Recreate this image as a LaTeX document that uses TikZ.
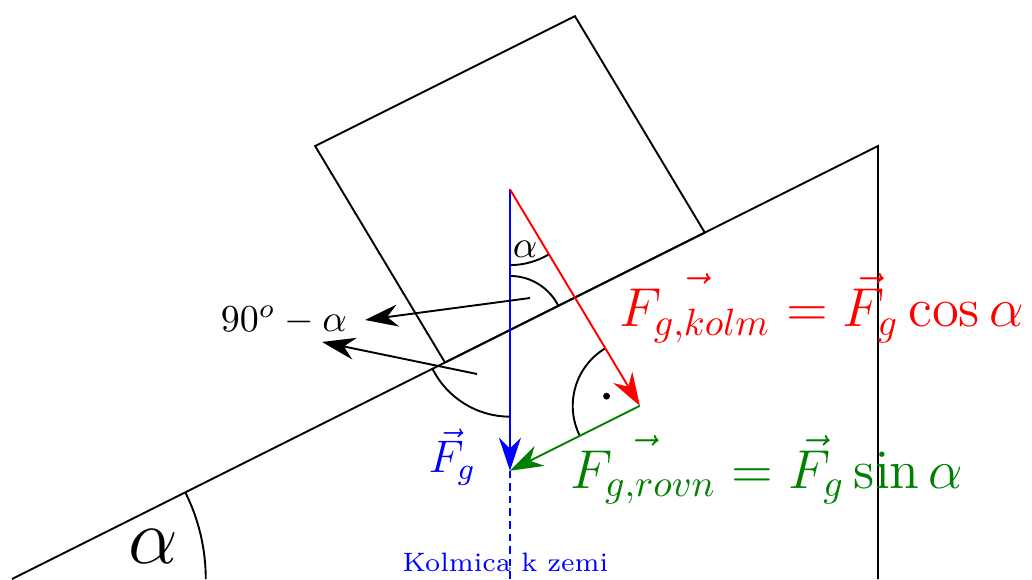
\documentclass[tikz,border=0pt]{standalone}
\usetikzlibrary{arrows.meta}
\begin{document}
\begin{tikzpicture}[
  line width=0.5pt,
  vec/.style={-{Stealth[length=8.7pt,width=5.8pt]}},
  lbl/.style={inner sep=0pt},
  kolmdash/.style={dash pattern=on 2pt off 1.3pt},
]
\useasboundingbox (-0.111,0) rectangle (9.423,5.349);
% incline
\coordinate (A) at (0,0);
\coordinate (B) at (8,0);
\coordinate (C) at (8,4);
\draw (A) -- (C) -- (B);
% block
\coordinate (K1) at (4,2);
\coordinate (K2) at (2.8,4);
\coordinate (K3) at (5.2,5.2);
\coordinate (K4) at (6.4,3.2);
\draw (K1) -- (K2) -- (K3) -- (K4) -- cycle;
% force points
\coordinate (O) at (4.6,3.6);
\coordinate (G) at (4.6,1.0);
\coordinate (R) at (5.8,1.6);
\coordinate (Z) at (4.6,0);
\coordinate (P) at (4.6,2.3);
% angle arcs
\draw ([shift={(0:1.79)}]A) arc[start angle=0, end angle=26.57, radius=1.79];
\draw ([shift={(270:0.7)}]O) arc[start angle=270, end angle=300.96, radius=0.7];
\draw ([shift={(26.57:0.5)}]P) arc[start angle=26.57, end angle=90, radius=0.5];
\draw ([shift={(206.57:0.8)}]P) arc[start angle=206.57, end angle=270, radius=0.8];
\draw ([shift={(120.96:0.62)}]R) arc[start angle=120.96, end angle=206.57, radius=0.62];
\fill ([shift={(163.8:0.32)}]R) circle (0.9pt);
% forces
\draw[blue, vec] (O) -- (G);
\draw[blue, kolmdash] (G) -- (Z);
\draw[red, vec] (O) -- (R);
\draw[green!50!black, vec] (R) -- (G);
% pointer arrows
\coordinate (T1) at (4.785,2.596);
\coordinate (H1) at (3.261,2.393);
\coordinate (T2) at (4.296,1.894);
\coordinate (H2) at (2.864,2.19);
\draw[vec] (T1) -- (H1);
\draw[vec] (T2) -- (H2);
% labels
\node[lbl, red, font=\Large, anchor=base west] (kolm) at (5.60,2.33) {$\vec{F_{g,kolm}} = \vec{F}_g\cos\alpha$};
\node[lbl, green!50!black, font=\Large, anchor=base west] (rovn) at (5.15,0.84) {$\vec{F_{g,rovn}} = \vec{F}_g\sin\alpha$};
\node[lbl, blue, font=\large, anchor=base west] (Fg) at (3.84,0.98) {$\vec{F}_g$};
\node[lbl] (asmall) at (4.739,3.049) {$\alpha$};
\node[lbl, anchor=base west] (lab) at (1.92,2.285) {$90^o-\alpha$};
\node[lbl, blue, font=\scriptsize, anchor=base west] (kz) at (3.60,0.065) {Kolmica k zemi};
\node[lbl, font=\huge, anchor=base west] (abig) at (1.07,0.148) {$\alpha$};
\end{tikzpicture}
\end{document}
